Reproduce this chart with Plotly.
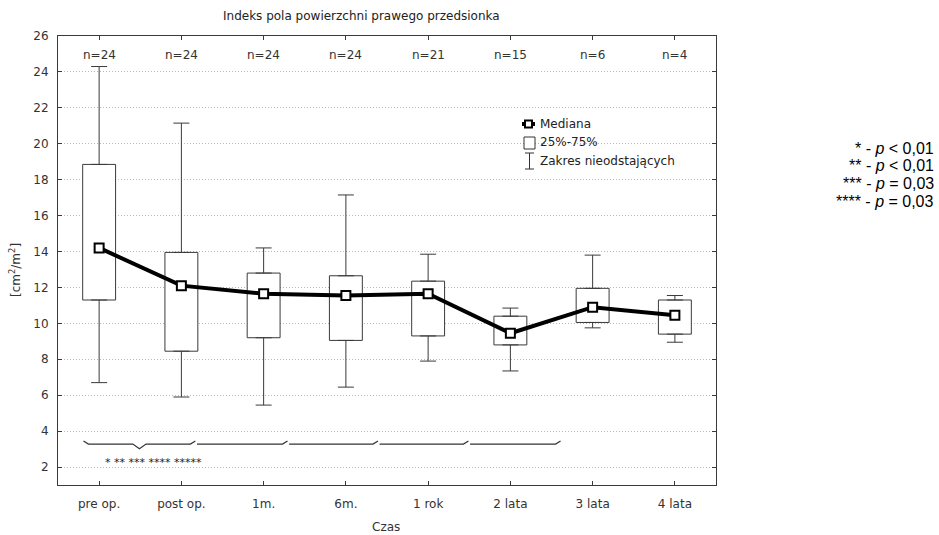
import plotly.graph_objects as go

# Time points and summary statistics of the right atrial area index
categories = ["pre op.", "post op.", "1m.", "6m.", "1 rok", "2 lata", "3 lata", "4 lata"]
n_counts = [24, 24, 24, 24, 21, 15, 6, 4]
whisker_low = [6.7, 5.9, 5.45, 6.45, 7.9, 7.35, 9.75, 8.95]
q1 = [11.3, 8.45, 9.2, 9.05, 9.3, 8.8, 10.05, 9.4]
median = [14.2, 12.1, 11.65, 11.55, 11.65, 9.45, 10.9, 10.45]
q3 = [18.85, 13.95, 12.8, 12.65, 12.35, 10.4, 11.95, 11.3]
whisker_high = [24.3, 21.15, 14.2, 17.15, 13.85, 10.85, 13.8, 11.55]

significance_notes = ["* - <i>p</i> < 0,01", "** - <i>p</i> < 0,01",
                      "*** - <i>p</i> = 0,03", "**** - <i>p</i> = 0,03"]
stars_label = "* ** *** **** *****"

# Brace boundaries (x positions in category units) under the data
brace_edges = [-0.19, 1.17, 2.29, 3.39, 4.49, 5.61]

xs = list(range(len(categories)))
FONT = "DejaVu Sans, Verdana, sans-serif"
NOTE_FONT = "Liberation Sans, Arial, sans-serif"
EDGE = "#3a3a3a"

fig = go.Figure()

# 25%-75% boxes
fig.add_trace(go.Bar(
    x=xs, base=q1, y=[b - a for a, b in zip(q1, q3)], width=0.4,
    marker=dict(color="white", line=dict(color=EDGE, width=1)),
    hoverinfo="skip", showlegend=False,
))

# Upper whiskers (from box top to max)
fig.add_trace(go.Scatter(
    x=xs, y=q3, mode="markers",
    marker=dict(size=1, color="rgba(0,0,0,0)"),
    error_y=dict(type="data", symmetric=False,
                 array=[h - t for h, t in zip(whisker_high, q3)],
                 arrayminus=[0] * len(xs), width=8, thickness=1, color=EDGE),
    hoverinfo="skip", showlegend=False,
))
# Lower whiskers (from box bottom to min)
fig.add_trace(go.Scatter(
    x=xs, y=q1, mode="markers",
    marker=dict(size=1, color="rgba(0,0,0,0)"),
    error_y=dict(type="data", symmetric=False,
                 array=[0] * len(xs),
                 arrayminus=[b - l for b, l in zip(q1, whisker_low)],
                 width=8, thickness=1, color=EDGE),
    hoverinfo="skip", showlegend=False,
))

# Median line
fig.add_trace(go.Scatter(
    x=xs, y=median, mode="lines+markers",
    line=dict(color="black", width=4),
    marker=dict(symbol="square", size=9, color="white",
                line=dict(color="black", width=2)),
    showlegend=False,
))

# Brace and connecting segments under the boxes
bx, by = [], []
top, base, tip = 3.45, 3.28, 3.02
l, r = brace_edges[0], brace_edges[1]
mid = (l + r) / 2
bx += [l, l + 0.06, mid - 0.08, mid, mid + 0.08, r - 0.06, r, None]
by += [top, base, base, tip, base, base, top, None]
for a, b in zip(brace_edges[1:-1], brace_edges[2:]):
    bx += [a + 0.02, b - 0.06, b, None]
    by += [base, base, top, None]
fig.add_trace(go.Scatter(x=bx, y=by, mode="lines",
                         line=dict(color="#333", width=1.2),
                         hoverinfo="skip", showlegend=False))

annotations = []
# Sample sizes above each time point
for x, n in zip(xs, n_counts):
    annotations.append(dict(x=x, y=24.95, xref="x", yref="y", text=f"n={n}",
                            showarrow=False, yanchor="middle",
                            font=dict(size=12, color="#333", family=FONT)))

annotations.append(dict(x=0.665, y=2.25, xref="x", yref="y", text=stars_label,
                        showarrow=False, yanchor="middle",
                        font=dict(size=11, color="#222", family=FONT)))

W, H = 939, 535
L, R, T, B = 58, 716, 36, 485


def px(xpix):
    return (xpix - L) / (R - L)


def py(ypix):
    return (B - ypix) / (B - T)


annotations += [
    dict(x=px(361), y=py(16), xref="paper", yref="paper",
         text="Indeks pola powierzchni prawego przedsionka", showarrow=False,
         xanchor="center", yanchor="middle",
         font=dict(size=12, color="#222", family=FONT)),
    dict(x=px(386), y=py(527), xref="paper", yref="paper", text="Czas",
         showarrow=False, xanchor="center", yanchor="middle",
         font=dict(size=12, color="#333", family=FONT)),
    dict(x=px(15), y=py(270), xref="paper", yref="paper",
         text="[cm<sup>2</sup>/m<sup>2</sup>]", textangle=-90, showarrow=False,
         xanchor="center", yanchor="middle",
         font=dict(size=12, color="#333", family=FONT)),
]

# Legend entries
legend_rows = [("Mediana", 124), ("25%-75%", 142), ("Zakres nieodstających", 161)]
for label, ypix in legend_rows:
    annotations.append(dict(x=px(538), y=py(ypix), xref="paper", yref="paper",
                            text=label, showarrow=False, xanchor="left", yanchor="middle",
                            font=dict(size=12, color="#222", family=FONT)))

# Significance notes on the right
for i, note in enumerate(significance_notes):
    annotations.append(dict(x=px(936), y=py(148 + i * 17.7), xref="paper", yref="paper",
                            text=note, showarrow=False, xanchor="right", yanchor="middle",
                            font=dict(size=16, color="black", family=NOTE_FONT)))

shapes = [
    # Mediana icon
    dict(type="line", xref="paper", yref="paper", x0=px(522), x1=px(535),
         y0=py(124), y1=py(124), line=dict(color="black", width=4)),
    dict(type="rect", xref="paper", yref="paper", x0=px(525), x1=px(532),
         y0=py(127.5), y1=py(120.5), line=dict(color="black", width=2), fillcolor="white"),
    # 25%-75% icon
    dict(type="rect", xref="paper", yref="paper", x0=px(524), x1=px(535),
         y0=py(149), y1=py(137), line=dict(color="#333", width=1), fillcolor="white"),
    # Whisker icon
    dict(type="line", xref="paper", yref="paper", x0=px(529.5), x1=px(529.5),
         y0=py(153), y1=py(169), line=dict(color="#333", width=1)),
    dict(type="line", xref="paper", yref="paper", x0=px(525), x1=px(534),
         y0=py(153), y1=py(153), line=dict(color="#333", width=1)),
    dict(type="line", xref="paper", yref="paper", x0=px(525), x1=px(534),
         y0=py(169), y1=py(169), line=dict(color="#333", width=1)),
]

fig.update_layout(
    width=W, height=H,
    margin=dict(l=L, r=W - R, t=T, b=H - B, pad=0),
    paper_bgcolor="white", plot_bgcolor="white",
    font=dict(family=FONT, size=12, color="#333"),
    barmode="overlay",
    annotations=annotations, shapes=shapes,
    showlegend=False,
)
fig.update_xaxes(
    range=[-0.5, 7.5], tickmode="array", tickvals=xs, ticktext=categories,
    showgrid=False, zeroline=False, showline=True, linecolor=EDGE, linewidth=1,
    mirror="ticks", ticks="inside", ticklen=4, tickcolor=EDGE,
    ticklabelstandoff=8,
    tickfont=dict(size=12, color="#333", family=FONT),
)
fig.update_yaxes(
    range=[1, 26], tickmode="array", tickvals=list(range(2, 27, 2)),
    showgrid=True, gridcolor="#b8b8b8", griddash="1px,2px", gridwidth=1,
    zeroline=False, showline=True, linecolor=EDGE, linewidth=1,
    mirror="ticks", ticks="inside", ticklen=4, tickcolor=EDGE,
    ticklabelstandoff=6,
    tickfont=dict(size=12, color="#333", family=FONT),
)

fig.write_html("out.html")
